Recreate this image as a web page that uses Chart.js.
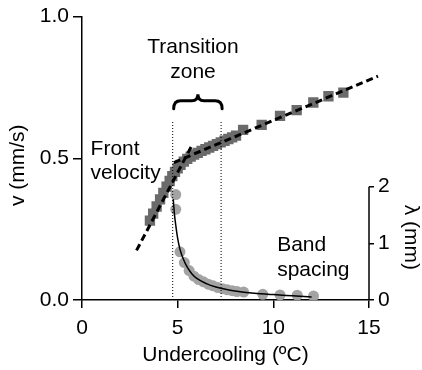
<!DOCTYPE html>
<html><head><meta charset="utf-8">
<style>html,body{margin:0;padding:0;background:#fff;overflow:hidden}canvas{display:block}</style>
<script src="https://cdn.jsdelivr.net/npm/chart.js@4.4.1/dist/chart.umd.min.js"></script>
</head><body>
<canvas id="c" width="422" height="370"></canvas>
<script>
// ---- data ----
const xTicks = [0, 5, 10, 15];
const vTicks = [0, 0.5, 1.0];
const lambdaTicks = [0, 1, 2];

// Front velocity (squares), v in mm/s
const velocityX = [3.55, 3.72, 3.9, 4.08, 4.25, 4.42, 4.58, 4.72, 4.86, 5.0, 5.15, 5.32, 5.5, 5.68, 5.86, 6.05, 6.25, 6.45, 6.65, 6.85, 7.05, 7.25, 7.45, 7.65, 7.85, 8.05, 8.42, 9.39, 10.35, 11.22, 12.09, 12.88, 13.66];
const velocityV = [0.28, 0.305, 0.33, 0.355, 0.378, 0.4, 0.42, 0.437, 0.452, 0.465, 0.477, 0.488, 0.498, 0.506, 0.513, 0.519, 0.526, 0.532, 0.538, 0.544, 0.55, 0.556, 0.562, 0.568, 0.574, 0.58, 0.6, 0.618, 0.65, 0.67, 0.697, 0.719, 0.732];

// Band spacing (circles), lambda in mm
const spacingX = [4.9, 4.9, 5.12, 5.35, 5.6, 5.85, 6.1, 6.35, 6.6, 6.85, 7.1, 7.35, 7.6, 7.85, 8.1, 8.45, 9.45, 10.35, 11.25, 12.1];
const spacingL = [1.86, 1.6, 0.85, 0.66, 0.52, 0.42, 0.36, 0.32, 0.28, 0.25, 0.22, 0.2, 0.18, 0.165, 0.15, 0.14, 0.1, 0.09, 0.085, 0.07];

// Solid fit through band spacing
const fitX = [4.77, 4.83, 4.9, 4.97, 5.05, 5.15, 5.3, 5.5, 5.75, 6.0, 6.5, 7.0, 7.5, 8.0, 9.0, 10.0, 11.0, 12.0];
const fitL = [1.78, 1.52, 1.32, 1.15, 1.0, 0.86, 0.72, 0.58, 0.46, 0.38, 0.29, 0.23, 0.19, 0.16, 0.12, 0.095, 0.075, 0.055];

// Dashed linear fits of front velocity
const steepFitX = [2.85, 5.7];
const steepFitV = [0.175, 0.54];
const shallowFitX = [4.8, 15.47];
const shallowFitV = [0.485, 0.79];

// Transition zone bounds
const transitionX = [4.74, 7.27];
const transitionTopV = 0.63;

// ---- build ----
const FONT = '"Liberation Sans", Arial, Helvetica, sans-serif';
const pts = (xs, ys) => xs.map((x, i) => ({x, y: ys[i]}));

const annotations = {
  id: 'annotations',
  afterDraw(chart) {
    const {ctx, scales: {x, y, y2}, chartArea} = chart;
    ctx.save();
    // right axis line (only over 0..2)
    ctx.strokeStyle = '#000';
    ctx.lineWidth = 1.5;
    ctx.beginPath();
    ctx.moveTo(y2.left, y2.getPixelForValue(lambdaTicks[0]));
    ctx.lineTo(y2.left, y2.getPixelForValue(lambdaTicks[lambdaTicks.length - 1]));
    ctx.stroke();

    // brace over transition zone
    const xl = x.getPixelForValue(transitionX[0]) + 1;
    const xr = x.getPixelForValue(transitionX[1]) + 1;
    const xm = (xl + xr) / 2;
    const yb = y.getPixelForValue(0.675), yc = y.getPixelForValue(0.703), yt = y.getPixelForValue(0.726);
    ctx.lineWidth = 3;
    ctx.lineCap = 'round';
    ctx.beginPath();
    ctx.moveTo(xl, yb);
    ctx.quadraticCurveTo(xl, yc, xl + 7, yc);
    ctx.lineTo(xm - 6, yc);
    ctx.quadraticCurveTo(xm, yc, xm, yt);
    ctx.quadraticCurveTo(xm, yc, xm + 6, yc);
    ctx.lineTo(xr - 7, yc);
    ctx.quadraticCurveTo(xr, yc, xr, yb);
    ctx.stroke();

    // texts
    ctx.fillStyle = '#000';
    ctx.font = '21px ' + FONT;
    ctx.textBaseline = 'middle';
    ctx.textAlign = 'center';
    ctx.fillText('Transition', x.getPixelForValue(5.8), y.getPixelForValue(0.892));
    ctx.fillText('zone', x.getPixelForValue(5.8), y.getPixelForValue(0.804));
    ctx.textAlign = 'left';
    ctx.fillText('Front', x.getPixelForValue(0.45), y.getPixelForValue(0.531));
    ctx.fillText('velocity', x.getPixelForValue(0.45), y.getPixelForValue(0.448));
    ctx.fillText('Band', x.getPixelForValue(10.2), y.getPixelForValue(0.192));
    ctx.fillText('spacing', x.getPixelForValue(10.2), y.getPixelForValue(0.105));

    // axis titles
    ctx.textAlign = 'center';
    ctx.fillText('Undercooling (ºC)', (chartArea.left + chartArea.right) / 2, 355);
    ctx.save();
    ctx.translate(18, (chartArea.top + chartArea.bottom) / 2 + 7);
    ctx.rotate(-Math.PI / 2);
    ctx.fillText('v (mm/s)', 0, 0);
    ctx.restore();
    ctx.save();
    ctx.translate(411, (y2.getPixelForValue(0) + y2.getPixelForValue(2)) / 2 - 6);
    ctx.rotate(Math.PI / 2);
    ctx.fillText('λ (mm)', 0, 0);
    ctx.restore();
    ctx.restore();
  }
};

const axisCommon = {
  grid: {drawOnChartArea: false, color: '#000', lineWidth: 1.5},
  border: {color: '#000', width: 1.5},
  ticks: {color: '#000', font: {size: 21, family: FONT}}
};

new Chart(document.getElementById('c'), {
  type: 'scatter',
  data: {
    datasets: [
      {label: 'zoneL', data: [{x: transitionX[0], y: 0}, {x: transitionX[0], y: transitionTopV}], showLine: true, borderColor: '#000', borderWidth: 1, borderDash: [1, 2], pointRadius: 0, yAxisID: 'y', order: 0},
      {label: 'zoneR', data: [{x: transitionX[1], y: 0}, {x: transitionX[1], y: transitionTopV}], showLine: true, borderColor: '#000', borderWidth: 1, borderDash: [1, 2], pointRadius: 0, yAxisID: 'y', order: 0},
      {label: 'steep', data: pts(steepFitX, steepFitV), showLine: true, borderColor: '#000', borderWidth: 3, borderDash: [7, 4], pointRadius: 0, yAxisID: 'y', order: 1, clip: false},
      {label: 'shallow', data: pts(shallowFitX, shallowFitV), showLine: true, borderColor: '#000', borderWidth: 3, borderDash: [7, 4], pointRadius: 0, yAxisID: 'y', order: 1, clip: false},
      {label: 'fit', data: pts(fitX, fitL), showLine: true, borderColor: '#000', borderWidth: 1.5, pointRadius: 0, cubicInterpolationMode: 'monotone', yAxisID: 'y2', order: 2},
      {label: 'Front velocity', data: pts(velocityX, velocityV), pointStyle: 'rect', pointRadius: 7.3, pointBackgroundColor: '#6b6b6b', pointBorderWidth: 0, yAxisID: 'y', order: 3},
      {label: 'Band spacing', data: pts(spacingX, spacingL), pointStyle: 'circle', pointRadius: 5.5, pointBackgroundColor: '#a3a3a3', pointBorderWidth: 0, yAxisID: 'y2', order: 4}
    ]
  },
  options: {
    responsive: false,
    animation: false,
    devicePixelRatio: 1,
    layout: {padding: {top: 14, left: 0, right: 0, bottom: 0}},
    plugins: {legend: {display: false}, tooltip: {enabled: false}},
    scales: {
      x: {
        type: 'linear', min: 0, max: 15, position: 'bottom',
        afterBuildTicks: s => { s.ticks = xTicks.map(v => ({value: v})); },
        afterFit: s => { s.height = 70; },
        grid: {...axisCommon.grid, tickLength: 8},
        border: axisCommon.border,
        ticks: {...axisCommon.ticks, padding: 8, maxRotation: 0}
      },
      y: {
        type: 'linear', min: 0, max: 1, position: 'left',
        afterBuildTicks: s => { s.ticks = vTicks.map(v => ({value: v})); },
        afterFit: s => { s.width = 82; },
        grid: {...axisCommon.grid, tickLength: 9},
        border: axisCommon.border,
        ticks: {...axisCommon.ticks, padding: 4, callback: v => Number(v).toFixed(1)}
      },
      y2: {
        type: 'linear', min: 0, max: 5, position: 'right',
        afterBuildTicks: s => { s.ticks = lambdaTicks.map(v => ({value: v})); },
        afterFit: s => { s.width = 53; },
        grid: {...axisCommon.grid, tickLength: 5},
        border: {display: false},
        ticks: {...axisCommon.ticks, padding: 4}
      }
    }
  },
  plugins: [annotations]
});
</script>
</body></html>
